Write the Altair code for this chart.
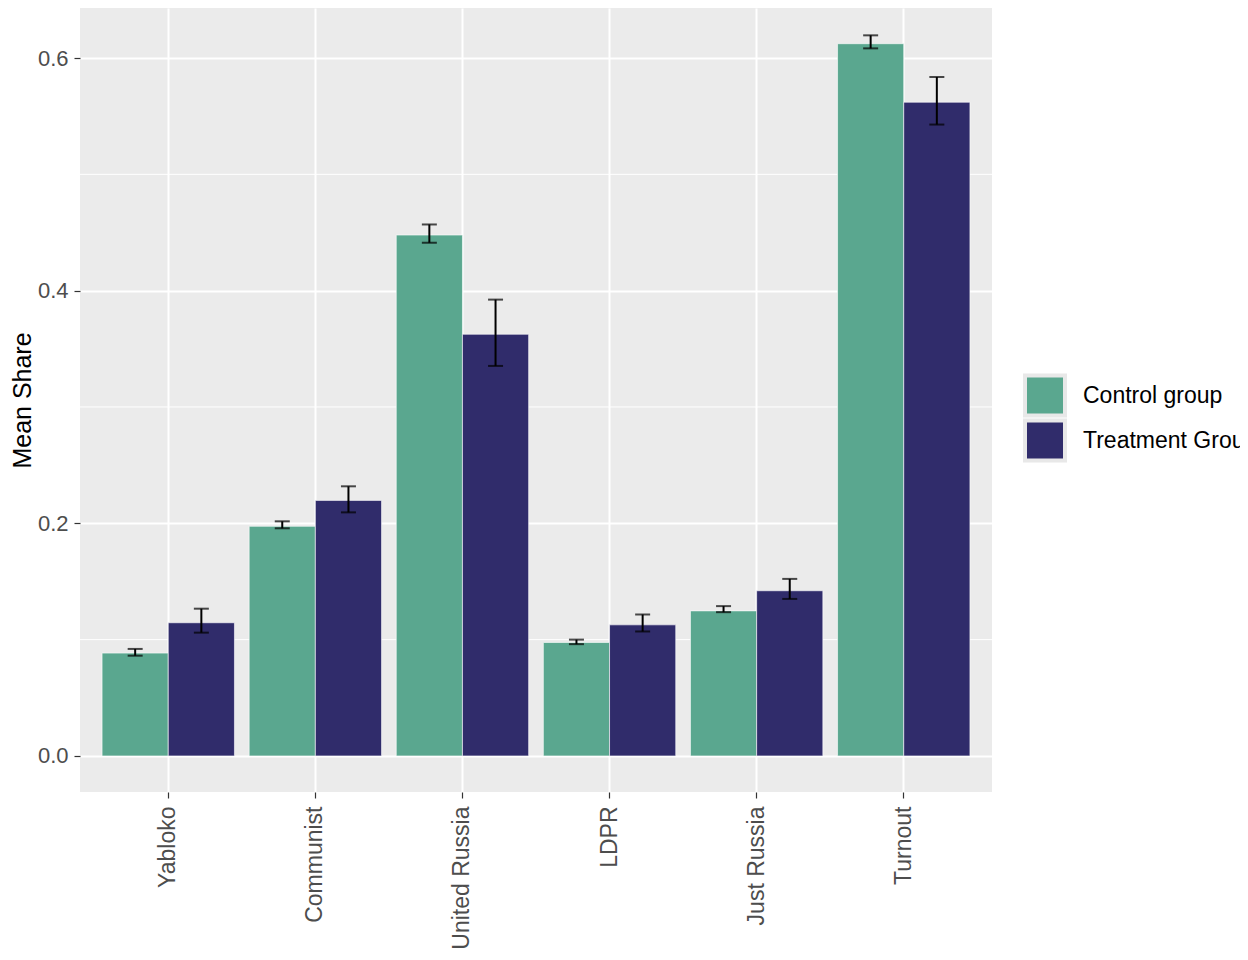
import altair as alt
import pandas as pd

categories = ["Yabloko", "Communist", "United Russia", "LDPR", "Just Russia", "Turnout"]
groups = ["Control group", "Treatment Group"]

control_mean = [0.0884, 0.1974, 0.4478, 0.0975, 0.1247, 0.6123]
control_low = [0.0862, 0.1957, 0.4412, 0.0961, 0.1236, 0.6083]
control_high = [0.0920, 0.2017, 0.4569, 0.1000, 0.1288, 0.6195]

treat_mean = [0.1145, 0.2197, 0.3625, 0.1127, 0.1420, 0.5620]
treat_low = [0.1060, 0.2094, 0.3353, 0.1070, 0.1350, 0.5428]
treat_high = [0.1266, 0.2318, 0.3923, 0.1216, 0.1522, 0.5837]

minor_grid = [0.1, 0.3, 0.5]
y_ticks = [0.0, 0.2, 0.4, 0.6]

rows = []
for i, c in enumerate(categories):
    rows.append({"cat": c, "grp": groups[0], "mean": control_mean[i],
                 "lo": control_low[i], "hi": control_high[i]})
    rows.append({"cat": c, "grp": groups[1], "mean": treat_mean[i],
                 "lo": treat_low[i], "hi": treat_high[i]})
df = pd.DataFrame(rows)
minor_df = pd.DataFrame({"v": minor_grid})

FONT = "Liberation Sans"

x_enc = alt.X("cat:N", sort=categories, title=None,
              scale=alt.Scale(paddingInner=0.1, paddingOuter=0.15),
              axis=alt.Axis(labelAngle=270, labelAlign="right", labelBaseline="middle",
                            labelFontSize=23, labelColor="#4D4D4D", labelPadding=8,
                            tickSize=6, tickColor="#333333", tickWidth=1.2,
                            domain=False, grid=True, gridColor="white", gridWidth=2,
                            bandPosition=0.5))
xoff = alt.XOffset("grp:N", sort=groups, scale=alt.Scale(paddingInner=0, paddingOuter=0))
y_scale = alt.Scale(domain=[-0.031, 0.643], nice=False, zero=False)

minor = alt.Chart(minor_df).mark_rule(color="white", strokeWidth=1).encode(
    y=alt.Y("v:Q", scale=y_scale)
)

bars = alt.Chart(df).mark_bar(stroke="white", strokeOpacity=0.6, strokeWidth=1).encode(
    x=x_enc,
    xOffset=xoff,
    y=alt.Y("mean:Q", scale=y_scale, title="Mean Share",
            axis=alt.Axis(values=y_ticks, format=".1f", labelFontSize=22,
                          labelColor="#4D4D4D", labelPadding=6, tickSize=6,
                          tickColor="#333333", tickWidth=1.2, domain=False,
                          grid=True, gridColor="white", gridWidth=2,
                          titleFontSize=25, titleFontWeight="normal",
                          titleColor="black", titlePadding=2)),
    y2=alt.datum(0),
    fill=alt.Fill("grp:N", sort=groups,
                  scale=alt.Scale(domain=groups, range=["#5AA78F", "#302C6B"]),
                  legend=alt.Legend(title=None, orient="none", legendX=943, legendY=365,
                                    symbolType="square", symbolSize=1600,
                                    symbolStrokeColor="#E8E8E8", symbolStrokeWidth=4,
                                    symbolOpacity=1, labelLimit=400, clipHeight=45,
                                    labelFontSize=23, labelColor="black", labelOffset=16,
                                    rowPadding=0, padding=0)),
)

err = alt.Chart(df).mark_rule(color="black", strokeWidth=2).encode(
    x=alt.X("cat:N", sort=categories),
    xOffset=xoff,
    y=alt.Y("lo:Q", scale=y_scale),
    y2="hi:Q",
)
cap_lo = alt.Chart(df).mark_tick(color="black", size=15, thickness=2).encode(
    x=alt.X("cat:N", sort=categories),
    xOffset=xoff,
    y=alt.Y("lo:Q", scale=y_scale),
)
cap_hi = alt.Chart(df).mark_tick(color="black", size=15, thickness=2).encode(
    x=alt.X("cat:N", sort=categories),
    xOffset=xoff,
    y=alt.Y("hi:Q", scale=y_scale),
)

chart = alt.layer(minor, bars, err, cap_lo, cap_hi).properties(
    width=912, height=784,
    autosize=alt.AutoSizeParams(type="none"),
    padding={"left": 72, "top": 0, "right": 248, "bottom": 160},
).configure(font=FONT).configure_view(fill="#EBEBEB", stroke=None)

chart.save("out.html", embed_options={"renderer": "svg", "actions": False})
